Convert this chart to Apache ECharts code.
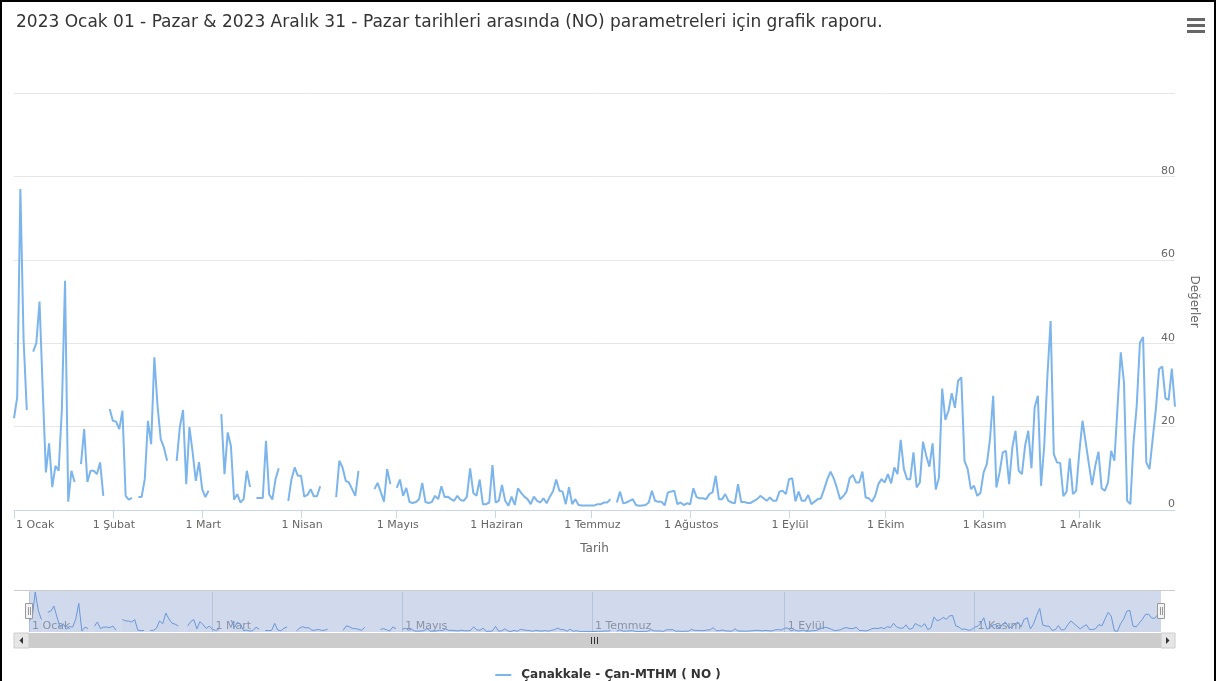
<!DOCTYPE html>
<html><head><meta charset="utf-8">
<script src="https://cdn.jsdelivr.net/npm/echarts@6/dist/echarts.min.js"></script>
<style>
html,body{margin:0;padding:0;background:#fff;}
#chart{position:absolute;left:0;top:0;width:1216px;height:681px;}
#frame{position:absolute;left:0;top:0;width:1216px;height:681px;box-sizing:border-box;border:2px solid #000;border-bottom:none;pointer-events:none;}
</style></head><body>
<div id="chart"></div><div id="frame"></div>
<script>
// ---- data ----
const monthNames = ['Ocak','Şubat','Mart','Nisan','Mayıs','Haziran','Temmuz','Ağustos','Eylül','Ekim','Kasım','Aralık'];
const monthLengths = [31,28,31,30,31,30,31,31,30,31,30,31];
const navLabelMonths = [0,2,4,6,8,10];
const seriesName = 'Çanakkale - Çan-MTHM ( NO )';
const titleText = '2023 Ocak 01 - Pazar & 2023 Aralık 31 - Pazar tarihleri arasında (NO) parametreleri için grafik raporu.';

const jan = [22,27,77,41,24,null,38,40,50,29,9,16,5.5,10.6,9.4,24,55,2,9.4,6.7,null,11,19.4,6.7,9.4,9.4,8.6,11.4,3.4,null,24.2];
const feb = [21.4,21.2,19.4,23.8,3.4,2.5,2.9,null,3.1,3.1,7.4,21.4,15.8,36.6,25,17,15,11.8,null,null,11.8,19.9,24,6.2,19.9,13.9,7,11.5];
const mar = [5,3.1,4.6,null,null,null,23,8.6,18.6,15.4,2.5,3.8,1.8,2.6,9.4,5.5,null,2.9,2.9,2.9,16.6,3.8,2.5,7.4,10,null,null,2.2,7.4,10.2,8.2];
const apr = [8.2,3.2,3.6,5,3.3,3.3,5.7,null,null,null,null,3.1,11.8,10.2,7,6.6,5,3.4,9.4,null,null,null,null,5,6.5,4.3,2,9.8,6.2,null];
const may = [5.3,7.3,3.4,5.3,1.9,1.7,1.9,2.6,6.5,1.9,1.7,1.9,3.4,2.6,5.7,3.1,3.2,2.6,2.2,3.4,2.4,2.2,3.2,10,4.1,3.4,7.3,1.4,1.4,1.8,10.8];
const jun = [1.8,2.2,6,2.2,1,3.2,1.2,5.2,4.1,3.2,2.6,1.4,3.2,2.2,1.8,2.8,1.6,3.2,4.5,7.3,4.6,4.4,1.4,5.5,1.4,2.6,1.2,1.1,1.1,1.1];
const jul = [1.1,1.1,1.4,1.4,1.8,1.8,2.6,null,1.8,4.4,1.6,1.8,2.2,2.6,1.2,1,1.1,1.2,1.8,4.6,2.2,2,2,1.1,4.2,4.4,4.6,1.4,1.8,1.2,1.6];
const aug = [1.4,5.2,3.1,2.8,2.8,2.6,3.8,4.2,8.2,2.6,2.6,3.8,2.2,1.8,1.6,6.2,1.9,1.9,1.7,1.7,2.2,2.6,3.4,2.8,2.2,3,2.2,2.2,4.4,4.6,3.8];
const sep = [7.4,7.6,2.1,4.4,2.2,2.2,3.6,1.4,2,2.6,2.8,5,7.4,9.2,7.6,5.3,2.6,3.3,4.4,7.6,8.4,6.6,6.6,9.2,3,2.8,2,3.4,6.2,7.4];
const oct = [6.6,8.6,6.4,10.2,8.6,16.8,9.8,7.4,7.4,13.8,5.4,6.6,16.4,13,10.4,16,4.9,7.8,29.1,21.6,23.8,28,24.5,31,31.8,11.8,9.8,5,5.8,3.4,4.1];
const nov = [9,11,17,27.4,5.4,9,13.8,14.2,6.2,15,19,9.4,8.6,15.4,19,10,24.6,27.4,5.8,15.4,32.2,45.3,13.4,11.4,11.3,3.3,4.4,12.4,3.8,4.6];
const dec = [13.8,21.4,16.2,11,6,10.6,14,5.2,4.6,6.6,14.2,11.8,25,37.8,30.6,2.2,1.4,16.2,25,40.1,41.5,11.4,9.8,17,24.2,33.8,34.4,26.8,26.4,33.9,24.8];

const values = [].concat(jan,feb,mar,apr,may,jun,jul,aug,sep,oct,nov,dec);
const categories = [], dayOfMonth = [], monthOf = [];
monthLengths.forEach((len,m)=>{ for(let d=1; d<=len; d++){ categories.push(d+' '+monthNames[m]); dayOfMonth.push(d); monthOf.push(m);} });

const isMonthStart = (i)=> dayOfMonth[i]===1;
const isNavTick = (i)=> dayOfMonth[i]===1 && navLabelMonths.indexOf(monthOf[i])>=0;
const FONT = 'DejaVu Sans';
const navMax = Math.max.apply(null, values.filter(v=>v!=null));

const chart = echarts.init(document.getElementById('chart'), null, {renderer:'canvas'});
chart.setOption({
  animation:false,
  backgroundColor:'#fff',
  title:{text:titleText, left:11, top:9, textStyle:{fontSize:17, fontWeight:'normal', color:'#333', fontFamily:FONT}},
  legend:{data:[seriesName], left:'center', top:664, icon:'rect', itemWidth:16, itemHeight:2,
    textStyle:{fontSize:12, fontWeight:'bold', color:'#333', fontFamily:FONT, padding:[0,0,0,5]}},
  grid:[
    {left:14, right:41, top:93, bottom:171, containLabel:false},
    {left:29, right:55, top:592, bottom:49, containLabel:false}
  ],
  xAxis:[
    {type:'category', gridIndex:0, data:categories, boundaryGap:false,
     axisLine:{lineStyle:{color:'#ccd6eb'}},
     axisTick:{interval:isMonthStart, length:8, lineStyle:{color:'#ccd6eb'}},
     axisLabel:{interval:isMonthStart, color:'#666', fontSize:11, fontFamily:FONT, margin:10, alignMinLabel:'left',
       padding:[0,0,0,2]},
     splitLine:{show:false},
     name:'Tarih', nameLocation:'middle', nameGap:33, nameTextStyle:{color:'#666', fontSize:12, fontFamily:FONT}},
    {type:'category', gridIndex:1, data:categories, boundaryGap:false,
     axisLine:{show:false}, axisTick:{show:false},
     splitLine:{show:true, interval:isNavTick, lineStyle:{color:'#d8dce6'}},
     axisLabel:{inside:true, interval:isNavTick, align:'left', margin:0, color:'#999', fontSize:11, fontFamily:FONT, padding:[0,0,0,3]}}
  ],
  yAxis:[
    {type:'value', gridIndex:0, position:'right', min:0, max:100, interval:20,
     axisLine:{show:false}, axisTick:{show:false},
     splitLine:{lineStyle:{color:'#e6e6e6'}},
     axisLabel:{inside:true, color:'#666', fontSize:11, fontFamily:FONT, verticalAlign:'bottom', margin:0, padding:0,
       formatter:(v)=> v===100 ? '' : String(v)},
     name:'Değerler', nameLocation:'middle', nameRotate:-90, nameGap:13, nameTextStyle:{color:'#666', fontSize:12, fontFamily:FONT}},
    {type:'value', gridIndex:1, min:0, max:navMax, show:false, splitLine:{show:false}}
  ],
  series:[
    {name:seriesName, type:'line', xAxisIndex:0, yAxisIndex:0, data:values, showSymbol:false, symbol:'none',
     connectNulls:false, color:'#7cb5ec', lineStyle:{width:2, color:'#7cb5ec'}, z:3},
    {name:'nav', type:'line', xAxisIndex:1, yAxisIndex:1, data:values, showSymbol:false, symbol:'none',
     connectNulls:false, color:'#7cb5ec', lineStyle:{width:1, color:'#6a9fe0'}, areaStyle:{color:'rgba(124,181,236,0.08)'}, z:2, silent:true}
  ],
  graphic:[
    // menu icon
    {type:'rect', shape:{x:1187,y:18,width:18,height:3}, style:{fill:'#666'}},
    {type:'rect', shape:{x:1187,y:24,width:18,height:3}, style:{fill:'#666'}},
    {type:'rect', shape:{x:1187,y:30,width:18,height:3}, style:{fill:'#666'}},
    // navigator mask & outline
    {type:'rect', z:10, shape:{x:29,y:590,width:1132,height:42}, style:{fill:'rgba(102,133,194,0.3)'}},
    {type:'line', z:11, shape:{x1:14,y1:590.5,x2:1175,y2:590.5}, style:{stroke:'#cccccc', lineWidth:1}},
    // handles
    {type:'rect', z:12, shape:{x:25.5,y:603.5,width:7,height:15}, style:{fill:'#f2f2f2', stroke:'#999', lineWidth:1}},
    {type:'line', z:13, shape:{x1:28.5,y1:607,x2:28.5,y2:615}, style:{stroke:'#999', lineWidth:1}},
    {type:'line', z:13, shape:{x1:30.5,y1:607,x2:30.5,y2:615}, style:{stroke:'#999', lineWidth:1}},
    {type:'rect', z:12, shape:{x:1157.5,y:603.5,width:7,height:15}, style:{fill:'#f2f2f2', stroke:'#999', lineWidth:1}},
    {type:'line', z:13, shape:{x1:1160.5,y1:607,x2:1160.5,y2:615}, style:{stroke:'#999', lineWidth:1}},
    {type:'line', z:13, shape:{x1:1162.5,y1:607,x2:1162.5,y2:615}, style:{stroke:'#999', lineWidth:1}},
    // scrollbar
    {type:'rect', z:10, shape:{x:14,y:633,width:1161,height:15}, style:{fill:'#f2f2f2'}},
    {type:'rect', z:11, shape:{x:29,y:633,width:1132,height:15}, style:{fill:'#cccccc'}},
    {type:'rect', z:11, shape:{x:14,y:633,width:15,height:15}, style:{fill:'#e6e6e6', stroke:'#cccccc', lineWidth:1}},
    {type:'rect', z:11, shape:{x:1161,y:633,width:14,height:15}, style:{fill:'#e6e6e6', stroke:'#cccccc', lineWidth:1}},
    {type:'polygon', z:12, shape:{points:[[23,637],[23,644],[19.5,640.5]]}, style:{fill:'#333'}},
    {type:'polygon', z:12, shape:{points:[[1166,637],[1166,644],[1169.5,640.5]]}, style:{fill:'#333'}},
    {type:'line', z:12, shape:{x1:591.5,y1:637,x2:591.5,y2:644}, style:{stroke:'#333', lineWidth:1}},
    {type:'line', z:12, shape:{x1:594.5,y1:637,x2:594.5,y2:644}, style:{stroke:'#333', lineWidth:1}},
    {type:'line', z:12, shape:{x1:597.5,y1:637,x2:597.5,y2:644}, style:{stroke:'#333', lineWidth:1}}
  ]
});
</script>
</body></html>
